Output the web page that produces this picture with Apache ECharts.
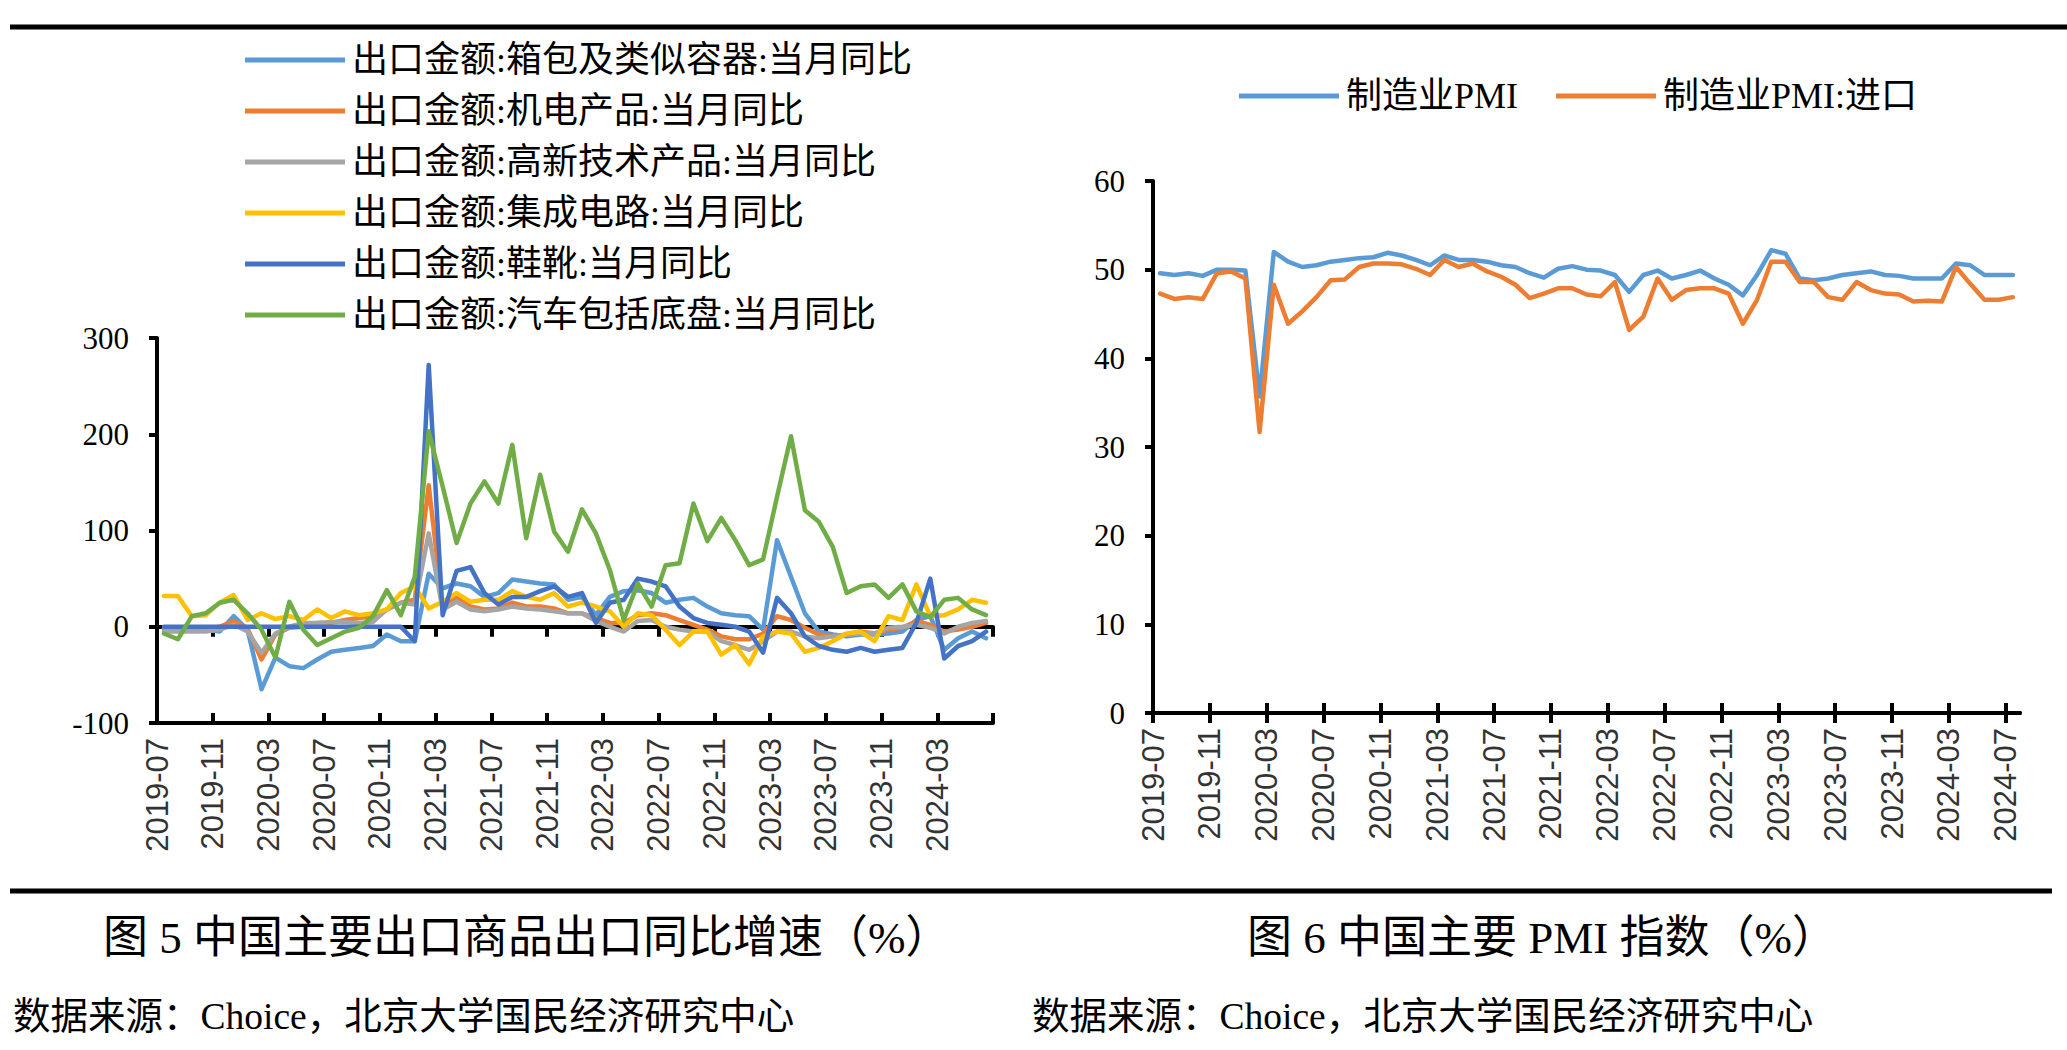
<!DOCTYPE html>
<html><head><meta charset="utf-8">
<script src="https://cdn.jsdelivr.net/npm/echarts@6/dist/echarts.min.js"></script>
<style>html,body{margin:0;padding:0;background:#fff;}#c{width:2067px;height:1050px;}</style>
</head><body><div id="c"></div>
<script>
// ---------- categories ----------
const exportMonths = ['2019-07','2019-08','2019-09','2019-10','2019-11','2019-12',
'2020-01','2020-02','2020-03','2020-04','2020-05','2020-06','2020-07','2020-08','2020-09','2020-10','2020-11','2020-12',
'2021-01','2021-02','2021-03','2021-04','2021-05','2021-06','2021-07','2021-08','2021-09','2021-10','2021-11','2021-12',
'2022-01','2022-02','2022-03','2022-04','2022-05','2022-06','2022-07','2022-08','2022-09','2022-10','2022-11','2022-12',
'2023-01','2023-02','2023-03','2023-04','2023-05','2023-06','2023-07','2023-08','2023-09','2023-10','2023-11','2023-12',
'2024-01','2024-02','2024-03','2024-04','2024-05','2024-06'];
const pmiMonths = ['2019-07','2019-08','2019-09','2019-10','2019-11','2019-12',
'2020-01','2020-02','2020-03','2020-04','2020-05','2020-06','2020-07','2020-08','2020-09','2020-10','2020-11','2020-12',
'2021-01','2021-02','2021-03','2021-04','2021-05','2021-06','2021-07','2021-08','2021-09','2021-10','2021-11','2021-12',
'2022-01','2022-02','2022-03','2022-04','2022-05','2022-06','2022-07','2022-08','2022-09','2022-10','2022-11','2022-12',
'2023-01','2023-02','2023-03','2023-04','2023-05','2023-06','2023-07','2023-08','2023-09','2023-10','2023-11','2023-12',
'2024-01','2024-02','2024-03','2024-04','2024-05','2024-06','2024-07'];

// ---------- series names ----------
const exportNames = ['出口金额:箱包及类似容器:当月同比','出口金额:机电产品:当月同比','出口金额:高新技术产品:当月同比',
  '出口金额:集成电路:当月同比','出口金额:鞋靴:当月同比','出口金额:汽车包括底盘:当月同比'];
const pmiNames = ['制造业PMI','制造业PMI:进口'];

// ---------- export YoY values (%) ----------
const bagsYoY = [-2,-3,-2,-3,-5,11,-3,-65,-32,-41, -43,-34,-26,-24,-22,-20,-8,-15,-15,55,
  40,45,42,31,35,49,47,45,44,28, 31,12,31,37,38,35,25,28,30,21,
  14,12,11,-3,90,52,14,-5,-8,-10, -8,-8,-7,-5,7,11,-24,-12,-5,-12];
const machineryYoY = [-2,-3,-2,-2,0,6,-2,-34,-8,-1, 0,4,4,7,9,11,18,25,28,147,
  21,31,21,18,19,25,21,21,19,14, 14,9,4,4,12,14,12,7,2,-3,
  -10,-13,-13,-7,11,7,-1,-8,-10,-8, -5,-7,-3,-1,6,2,-5,-3,0,4];
const hitechYoY = [-5,-5,-5,-5,-3,2,-5,-27,-7,0, 4,4,5,5,4,5,18,25,23,97,
  18,26,18,16,18,21,19,18,16,14, 14,6,0,-5,6,7,0,-3,-5,-5,
  -15,-19,-24,-15,-5,-5,-10,-12,-10,-8, -7,-7,-1,0,2,-1,-7,0,4,6];
const chipsYoY = [32,32,11,12,25,33,7,14,8,11, 7,18,9,16,12,14,18,35,42,19,
  26,35,26,28,28,37,31,28,35,21, 25,21,16,0,14,12,-3,-19,-5,-5,
  -29,-19,-39,-10,-5,-7,-26,-22,-15,-7, -5,-15,11,7,44,11,12,18,28,25];
const shoesYoY = [0,0,0,0,0,0,0,0,0,0, 0,0,0,0,0,0,0,0,-15,272,
  12,58,62,35,23,31,31,37,42,31, 35,4,25,28,50,47,42,21,9,4,
  2,0,-5,-27,30,14,-10,-20,-24,-26, -22,-26,-24,-22,4,50,-33,-20,-15,-5];
const autosYoY = [-7,-13,11,14,25,28,14,-3,-32,26, -3,-19,-12,-5,-1,11,38,12,52,203,
  146,87,128,151,128,189,92,158,99,78, 122,97,59,7,45,21,64,66,128,89,
  113,90,64,70,135,198,121,109,83,35, 42,44,30,44,16,10,28,30,18,12];

// ---------- PMI values ----------
const mfgPMI = [49.6,49.4,49.6,49.3,50.0,50.0,49.9,35.7,52.0,50.9,
  50.3,50.5,50.9,51.1,51.3,51.4,51.9,51.6,51.1,50.5,
  51.6,51.1,51.1,50.9,50.5,50.3,49.6,49.1,50.1,50.4,
  50.0,49.9,49.4,47.5,49.4,49.9,49.0,49.4,49.9,49.0,
  48.3,47.1,49.4,52.2,51.8,49.0,48.8,49.0,49.4,49.6,
  49.8,49.4,49.3,49.0,49.0,49.0,50.7,50.5,49.4,49.4,49.4];
const importPMI = [47.3,46.7,46.9,46.7,49.6,49.8,49.0,31.7,48.3,43.9,
  45.3,46.9,48.8,48.9,50.3,50.7,50.7,50.6,50.1,49.4,
  51.1,50.3,50.7,49.8,49.2,48.3,46.8,47.3,47.9,47.9,
  47.2,47.0,48.6,43.2,44.7,49.0,46.6,47.7,47.9,47.9,
  47.3,43.9,46.6,50.9,50.9,48.6,48.6,46.9,46.6,48.6,
  47.7,47.3,47.2,46.4,46.5,46.4,50.3,48.4,46.6,46.6,46.9];

// ---------- y tick settings ----------
const exportYMin = -100, exportYMax = 300, exportYStep = 100;
const pmiYMin = 0, pmiYMax = 60, pmiYStep = 10;
const monthStep = 4;

// ---------- texts ----------
const caption5 = '图 5 中国主要出口商品出口同比增速（%）';
const caption6 = '图 6 中国主要 PMI 指数（%）';
const sourceText = '数据来源：Choice，北京大学国民经济研究中心';

const exportColors = ['#5B9BD5','#ED7D31','#A5A5A5','#FFC000','#4472C4','#70AD47'];
const pmiColors = ['#5B9BD5','#ED7D31'];
const SERIF = "'Liberation Serif','Noto Sans CJK SC',serif";
const SANS = "'Liberation Sans',Arial,sans-serif";

const exportSeriesData = [bagsYoY, machineryYoY, hitechYoY, chipsYoY, shoesYoY, autosYoY];
const pmiSeriesData = [mfgPMI, importPMI];

// tick positions at category boundaries every 4 months
const exportTickVals = []; for (let k = 0; k <= exportMonths.length; k += monthStep) exportTickVals.push(k);
const exportLabelVals = exportTickVals.filter(v => v < exportMonths.length);
const pmiTickVals = []; for (let k = 0; k < pmiMonths.length; k += monthStep) pmiTickVals.push(k);

const toPoints = arr => arr.map((v, i) => [i + 0.5, v]);   // category centres

const axisBlack = {color:'#000', width:4};
function xAxisSet(grid, max, ticks, labels, names, withLine, inside, showLabels, onZero) {
  return {
    type:'value', gridIndex:grid, min:0, max:max, interval:monthStep, position:'bottom',
    splitLine:{show:false},
    axisLine:{show:withLine, onZero:onZero, lineStyle:axisBlack},
    axisTick:{show:ticks !== null, customValues:ticks || [], inside:inside, length:10, lineStyle:{color:'#000', width:4}},
    axisLabel:{show:showLabels, customValues:labels || [], rotate:90, margin:15,
      formatter: v => names[Math.round(v)] || '', fontFamily:SANS, fontSize:31, color:'#333'}
  };
}

const option = {
  animation:false,
  backgroundColor:'#fff',
  textStyle:{fontFamily:SERIF},
  grid:[
    {left:157, top:338, width:836, height:385},
    {left:1153, top:181, width:867, height:532}
  ],
  xAxis:[
    xAxisSet(0, exportMonths.length, exportTickVals, null, exportMonths, true, false, false, true),
    xAxisSet(0, exportMonths.length, exportTickVals, null, exportMonths, true, true, false, true),
    xAxisSet(0, exportMonths.length, null, exportLabelVals, exportMonths, false, false, true, false),
    xAxisSet(1, pmiMonths.length, pmiTickVals, pmiTickVals, pmiMonths, true, false, true, true),
    xAxisSet(1, pmiMonths.length, pmiTickVals, null, pmiMonths, true, true, false, true)
  ],
  yAxis:[
    {type:'value', gridIndex:0, min:exportYMin, max:exportYMax, interval:exportYStep,
     splitLine:{show:false}, axisLine:{show:true, lineStyle:axisBlack},
     axisTick:{show:true, length:8, lineStyle:{color:'#000', width:4}},
     axisLabel:{margin:28, fontFamily:SERIF, fontSize:31, color:'#000'}},
    {type:'value', gridIndex:1, min:pmiYMin, max:pmiYMax, interval:pmiYStep,
     splitLine:{show:false}, axisLine:{show:true, lineStyle:axisBlack},
     axisTick:{show:true, length:8, lineStyle:{color:'#000', width:4}},
     axisLabel:{margin:28, fontFamily:SERIF, fontSize:31, color:'#000'}}
  ],
  legend:[
    {data:exportNames, orient:'vertical', left:240, top:35, itemWidth:100, itemHeight:5, itemGap:11,
     icon:'rect', selectedMode:false, align:'left',
     textStyle:{fontFamily:SERIF, fontSize:36, color:'#000', lineHeight:40, padding:[0,0,0,2]}},
    {data:pmiNames, orient:'horizontal', left:1234, top:71, itemWidth:100, itemHeight:5, itemGap:38,
     icon:'rect', selectedMode:false,
     textStyle:{fontFamily:SERIF, fontSize:36, color:'#000', lineHeight:40, padding:[0,0,0,2]}}
  ],
  series:[
    ...exportSeriesData.map((arr, k) => ({
      name:exportNames[k], type:'line', xAxisIndex:0, yAxisIndex:0, data:toPoints(arr),
      symbol:'none', showSymbol:false, color:exportColors[k],
      lineStyle:{width:4.5, color:exportColors[k], cap:'round', join:'round'}
    })),
    ...pmiSeriesData.map((arr, k) => ({
      name:pmiNames[k], type:'line', xAxisIndex:3, yAxisIndex:1, data:toPoints(arr),
      symbol:'none', showSymbol:false, color:pmiColors[k],
      lineStyle:{width:4.5, color:pmiColors[k], cap:'round', join:'round'}
    }))
  ],
  graphic:[
    {type:'line', shape:{x1:10, y1:27, x2:2067, y2:27}, style:{stroke:'#000', lineWidth:5}},
    {type:'line', shape:{x1:10, y1:891, x2:2052, y2:891}, style:{stroke:'#000', lineWidth:5}},
    {type:'text', x:103, y:938, style:{text:caption5, fontSize:45, fontFamily:SERIF, fill:'#000', verticalAlign:'middle'}},
    {type:'text', x:1247, y:938, style:{text:caption6, fontSize:45, fontFamily:SERIF, fill:'#000', verticalAlign:'middle'}},
    {type:'text', x:13, y:1016, style:{text:sourceText, fontSize:37.5, fontFamily:SERIF, fill:'#000', verticalAlign:'middle'}},
    {type:'text', x:1032, y:1016, style:{text:sourceText, fontSize:37.5, fontFamily:SERIF, fill:'#000', verticalAlign:'middle'}}
  ]
};
const chart = echarts.init(document.getElementById('c'), null, {renderer:'svg', width:2067, height:1050});
chart.setOption(option);
</script>
</body></html>
